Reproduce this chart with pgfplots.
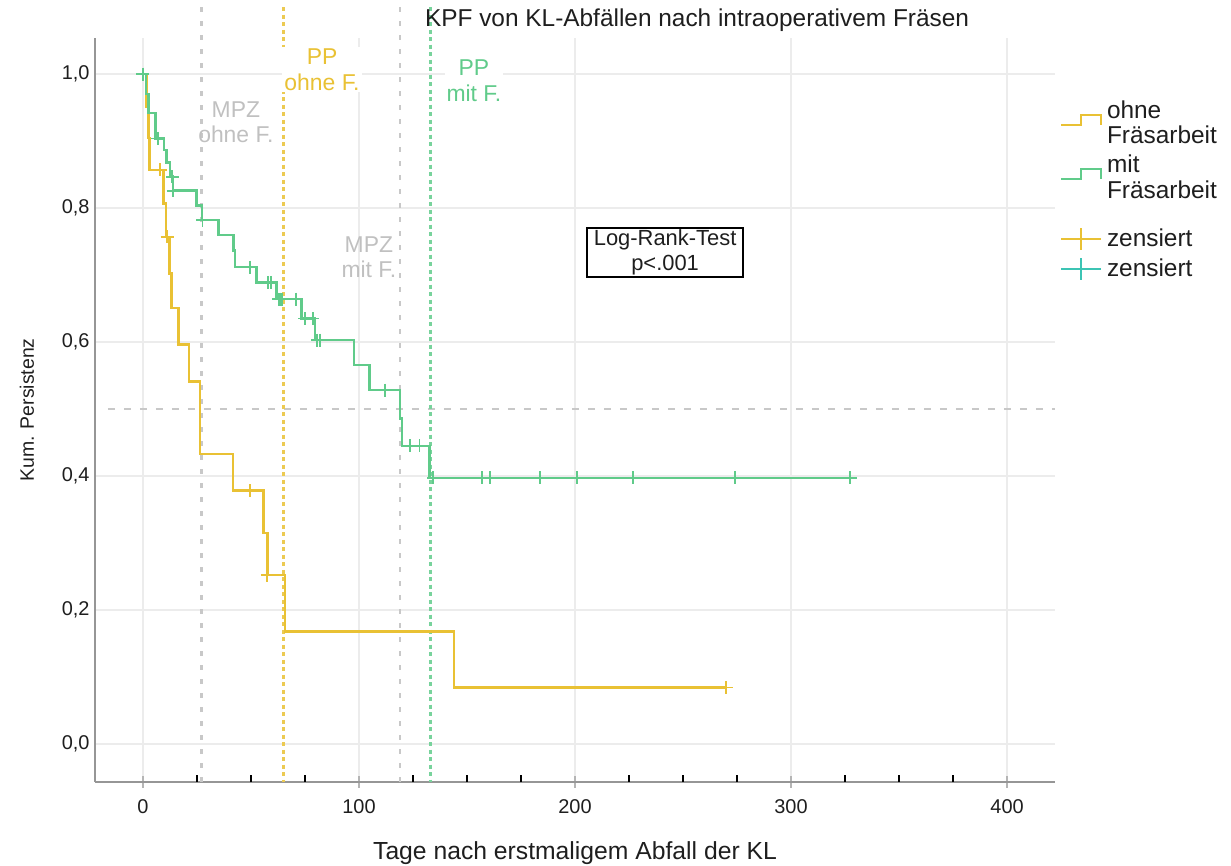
\documentclass[border=0pt]{standalone}
\usepackage{pgfplots}
\pgfplotsset{compat=1.18}
\usepackage{fontspec}
\setmainfont{Liberation Sans}
\definecolor{kmyellow}{RGB}{233,193,52}
\definecolor{kmgreen}{RGB}{96,203,138}
\definecolor{kmteal}{RGB}{60,196,180}
\definecolor{refgray}{RGB}{200,200,200}
\definecolor{txtgray}{RGB}{192,192,192}
\definecolor{gridgray}{RGB}{236,236,236}
\definecolor{axgray}{RGB}{150,150,150}
\definecolor{legtext}{RGB}{30,30,30}
\pgfplotsset{
  steplegend/.style={legend image code/.code={\path[draw=none,fill=none] (0bp,-6bp) rectangle (40bp,#1); \draw[##1] (0bp,-6bp) -- (20bp,-6bp) -- (20bp,4bp) -- (40bp,4bp) -- (40bp,-6bp);}},
  textrow/.style={legend image code/.code={\path[draw=none,fill=none] (0bp,-6bp) rectangle (40bp,#1);}},
  censlegend/.style={legend image code/.code={\path[draw=none,fill=none] (0bp,-6bp) rectangle (40bp,#1); \draw[##1] (0bp,8bp) -- (40bp,8bp); \draw[##1] (20bp,-3bp) -- (20bp,19bp);}},
}
\pgfplotstableread{
x y
0 1
1.7 0.952
2.5 0.905
3.0 0.857
9.6 0.807
10.7 0.757
12.2 0.702
13.3 0.651
16.4 0.596
21.3 0.541
26.4 0.433
41.7 0.378
55.7 0.315
57.7 0.252
65.7 0.168
144 0.084
270 0.084
}\ohne
\pgfplotstableread{
x y
7.9 0.857
11.2 0.757
49.5 0.378
57.6 0.252
270 0.084
}\ohnecens
\pgfplotstableread{
x y
0 1
1.5 0.97
2.5 0.942
5.9 0.904
9.8 0.887
10.9 0.868
12.5 0.847
13.9 0.826
24.8 0.804
27.4 0.782
34.9 0.760
41.8 0.737
42.6 0.712
52.6 0.689
61.9 0.664
73.5 0.635
79.6 0.603
97.7 0.566
104.8 0.528
119.0 0.486
119.8 0.445
132.6 0.397
327.3 0.397
}\mit
\pgfplotstableread{
x y
0 1
6.8 0.904
13.6 0.847
14.0 0.826
27.6 0.782
49.5 0.712
57.9 0.689
59.4 0.689
62.7 0.664
63.4 0.664
64.2 0.664
70.8 0.664
75.0 0.635
78.6 0.635
80.7 0.603
82.0 0.603
112.0 0.528
123.6 0.445
128.0 0.445
134.4 0.397
156.8 0.397
160.6 0.397
183.8 0.397
200.8 0.397
227.0 0.397
274.0 0.397
327.3 0.397
}\mitcens
\begin{document}
\begin{tikzpicture}[x=1bp,y=1bp]
\path[use as bounding box] (0,0) rectangle (1231,866);
\begin{axis}[
  at={(95bp,84bp)}, anchor=south west,
  scale only axis, width=960bp, height=744bp,
  xmin=-22.2, xmax=422.2, ymin=-0.057, ymax=1.054,
  clip=false,
  axis x line*=bottom, axis y line*=left,
  axis line style={draw=axgray, line width=2.5bp},
  xtick={0,100,200,300,400},
  ytick={0,0.2,0.4,0.6,0.8,1.0},
  tick align=center,
  major tick length=12bp,
  xtick style={draw=axgray!70, line width=1.5bp},
  ytick style={draw=none},
  extra x ticks={25,50,75,125,150,175,225,250,275,325,350,375},
  extra x tick labels={},
  extra x tick style={grid=none, tick align=inside, major tick length=7bp, xtick style={draw=black, line width=1.3bp}},
  xmajorgrids, ymajorgrids,
  major grid style={draw=gridgray, line width=1.5bp},
  ticklabel style={font=\fontsize{20}{24}\selectfont, text=legtext},
  /pgf/number format/assume math mode=true,
  yticklabel style={xshift=4bp, /pgf/number format/.cd, fixed, fixed zerofill, precision=1, use comma},
  xticklabel style={yshift=-8bp, /pgf/number format/.cd, fixed, precision=0},
  legend cell align=left,
  legend style={at={(1.0052,0.915)}, anchor=north west, draw=none, fill=none,
    inner sep=0pt, outer sep=0pt, row sep=0pt, column sep=5bp,
    font=\fontsize{24.5}{26}\selectfont, cells={anchor=base west},
    nodes={inner sep=0pt, text=legtext}},
]
% reference lines
\addplot[forget plot, refgray, line width=2.5bp, dash pattern=on 5bp off 9bp] coordinates {(27,1.10) (27,-0.057)};
\addplot[forget plot, refgray, line width=2.5bp, dash pattern=on 5bp off 9bp] coordinates {(119,1.10) (119,-0.057)};
\addplot[forget plot, refgray, line width=2bp, dash pattern=on 7bp off 9bp] coordinates {(-16.2,0.5) (422.2,0.5)};
\addplot[forget plot, kmyellow!85, line width=3bp, dash pattern=on 4bp off 3.5bp] coordinates {(65,1.10) (65,-0.057)};
\addplot[forget plot, kmgreen!85, line width=3bp, dash pattern=on 4bp off 3.5bp] coordinates {(133,1.10) (133,-0.057)};
% curves
\addplot[forget plot, const plot, kmyellow, line width=2.5bp] table[x=x,y=y] {\ohne};
\addplot[forget plot, const plot, kmgreen, line width=2.5bp] table[x=x,y=y] {\mit};
\addplot[forget plot, only marks, mark=+, mark size=6.5bp, kmyellow, mark options={line width=1.8bp}] table[x=x,y=y] {\ohnecens};
\addplot[forget plot, only marks, mark=+, mark size=6.5bp, kmgreen, mark options={line width=1.8bp}] table[x=x,y=y] {\mitcens};
% legend
\addlegendimage{steplegend=12bp, kmyellow, line width=2bp}
\addlegendentry{ohne}
\addlegendimage{textrow=15bp}
\addlegendentry{Fräsarbeit}
\addlegendimage{steplegend=23bp, kmgreen, line width=2bp}
\addlegendentry{mit}
\addlegendimage{textrow=19bp}
\addlegendentry{Fräsarbeit}
\addlegendimage{censlegend=42bp, kmyellow, line width=2bp}
\addlegendentry{zensiert}
\addlegendimage{censlegend=24bp, kmteal, line width=2bp}
\addlegendentry{zensiert}
% annotations
\node[fill=white, inner sep=2bp, align=center, text=kmyellow, font=\fontsize{23}{25.5}\selectfont] at (axis cs:82.9,1.0067) {PP\\ohne F.};
\node[fill=white, inner sep=2bp, align=center, text=kmgreen, font=\fontsize{23}{26.5}\selectfont] at (axis cs:153.2,0.990) {PP\\mit F.};
\node[inner sep=0bp, align=center, text=txtgray, font=\fontsize{23}{25.5}\selectfont] at (axis cs:43,0.928) {MPZ\\ohne F.};
\node[inner sep=0bp, align=center, text=txtgray, font=\fontsize{23}{25.5}\selectfont] at (axis cs:104.6,0.727) {MPZ\\mit F.};
\node[draw=black, line width=2bp, fill=white, inner xsep=7bp, inner ysep=2bp, align=center, text=legtext, font=\fontsize{22}{24.5}\selectfont] at (axis cs:241.7,0.734) {Log-Rank-Test\\p<.001};
% titles
\node[text=legtext, font=\fontsize{24.5}{28}\selectfont] at (axis cs:256.5,1.0806) {KPF von KL-Abfällen nach intraoperativem Fräsen};
\node[text=legtext, font=\fontsize{24.8}{28}\selectfont] at (axis cs:200,-0.163) {Tage nach erstmaligem Abfall der KL};
\node[text=legtext, rotate=90, font=\fontsize{19.5}{23}\selectfont] at (axis cs:-53.7,0.4985) {Kum. Persistenz};
\end{axis}
\end{tikzpicture}
\end{document}
